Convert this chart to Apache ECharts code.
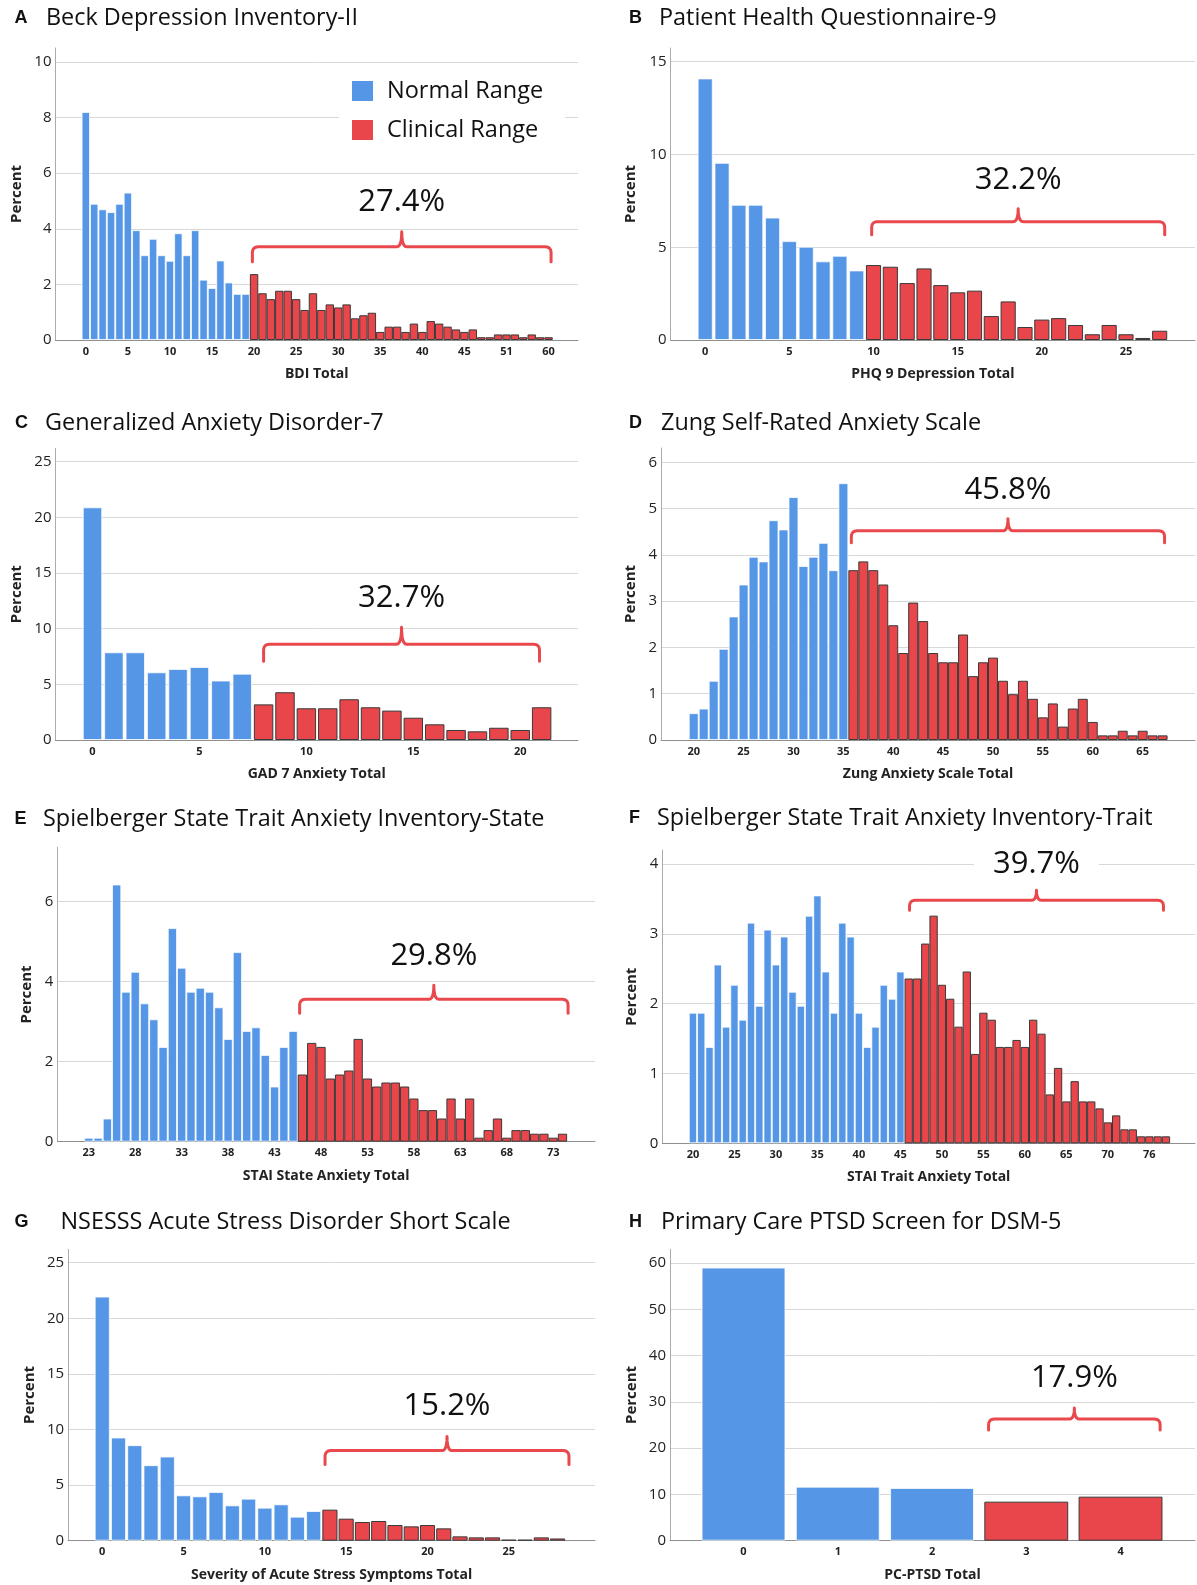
<!DOCTYPE html>
<html>
<head>
<meta charset="utf-8">
<script src="https://cdn.jsdelivr.net/npm/echarts@6/dist/echarts.min.js"></script>
<style>
html, body { margin: 0; padding: 0; background: #fff; }
#main { width: 1197px; height: 1585px; }
</style>
</head>
<body>
<div id="main"></div>
<script>
// ---- data (percent of respondents per score) ----
var bdiCats = ['0','1','2','3','4','5','6','7','8','9','10','11','12','13','14','15','16','17','18','19',
  '20','21','22','23','24','25','26','27','28','29','30','31','32','33','34','35','36','37','38','39',
  '40','41','42','43','44','45','46','47','48','50','51','52','53','55','57','60'];
var bdiPct = [8.2,4.9,4.7,4.6,4.9,5.3,3.95,3.05,3.64,3.05,2.85,3.84,3.05,3.95,2.17,1.87,2.86,2.07,1.66,1.66,
  2.37,1.68,1.47,1.77,1.77,1.47,1.08,1.68,1.08,1.28,1.17,1.28,0.78,0.89,0.98,0.29,0.48,0.48,0.29,0.59,
  0.29,0.68,0.59,0.48,0.38,0.29,0.38,0.1,0.1,0.2,0.2,0.2,0.1,0.2,0.1,0.1];

var phqCats = ['0','1','2','3','4','5','6','7','8','9','10','11','12','13','14','15','16','17','18','19',
  '20','21','22','23','24','25','26','27'];
var phqPct = [14.1,9.55,7.29,7.29,6.6,5.33,5.03,4.24,4.54,3.75,4.04,3.95,3.07,3.86,2.96,2.57,2.66,1.29,2.08,0.7,
  1.1,1.18,0.81,0.31,0.81,0.31,0.11,0.5];

var gadCats = ['0','1','2','3','4','5','6','7','8','9','10','11','12','13','14','15','16','17','18','19','20','21'];
var gadPct = [20.9,7.88,7.88,6.08,6.38,6.56,5.34,5.96,3.2,4.29,2.85,2.85,3.66,2.94,2.64,2.0,1.41,0.9,0.78,1.1,0.9,2.94];

var zungCats = ['20','21','22','23','24','25','26','27','28','29','30','31','32','33','34','35','36','37','38','39',
  '40','41','42','43','44','45','46','47','48','49','50','51','52','53','54','55','56','57','58','59',
  '60','61','62','63','64','65','66','67'];
var zungPct = [0.58,0.68,1.28,1.97,2.67,3.36,3.96,3.86,4.75,4.55,5.25,3.76,3.96,4.26,3.67,5.55,
  3.67,3.86,3.67,3.36,2.48,1.88,2.97,2.57,1.88,1.68,1.68,2.28,1.38,1.68,1.78,1.28,0.99,1.28,0.89,0.49,
  0.79,0.29,0.68,0.89,0.39,0.1,0.1,0.2,0.1,0.2,0.1,0.1];

var stateCats = ['23','24','25','26','27','28','29','30','31','32','33','34','35','36','37','38','39','40','41','42',
  '43','44','45','46','47','48','49','50','51','52','53','54','55','56','57','58','59','60','61','62',
  '63','64','65','66','67','68','69','70','71','72','73','74'];
var statePct = [0.1,0.1,0.58,6.43,3.75,4.25,3.46,3.06,2.37,5.34,4.35,3.75,3.85,3.75,3.36,2.57,4.74,2.77,2.86,2.17,
  1.38,2.37,2.77,1.68,2.47,2.37,1.58,1.68,1.78,2.57,1.58,1.38,1.48,1.48,1.38,1.08,0.79,0.79,0.58,1.08,
  0.58,1.08,0.1,0.29,0.58,0.1,0.29,0.29,0.2,0.2,0.1,0.2];

var traitCats = ['20','21','22','23','24','25','26','27','28','29','30','31','32','33','34','35','36','37','38','39',
  '40','41','42','43','44','45','46','47','48','49','50','51','52','53','54','55','56','57','58','59',
  '60','61','62','63','64','65','66','67','68','69','70','71','72','73','74','76','77','78'];
var traitPct = [1.87,1.87,1.38,2.56,1.67,2.27,1.77,3.16,1.97,3.06,2.56,2.96,2.17,1.97,3.26,3.55,2.46,1.87,3.16,2.96,
  1.87,1.38,1.67,2.27,2.07,2.46,2.36,2.36,2.86,3.26,2.27,2.07,1.67,2.46,1.28,1.87,1.77,1.38,1.38,1.48,
  1.38,1.77,1.57,0.7,1.08,0.6,0.89,0.6,0.6,0.5,0.3,0.4,0.2,0.2,0.1,0.1,0.1,0.1];

var asdCats = ['0','1','2','3','4','5','6','7','8','9','10','11','12','13','14','15','16','17','18','19',
  '20','21','22','23','24','25','26','27','28'];
var asdPct = [21.95,9.28,8.59,6.79,7.57,4.08,3.99,4.38,3.18,3.78,2.97,3.27,2.16,2.67,2.79,1.98,1.68,1.77,1.41,1.29,
  1.41,1.11,0.39,0.3,0.3,0.09,0.09,0.3,0.2];

var ptsdCats = ['0','1','2','3','4'];
var ptsdPct = [59.05,11.68,11.4,8.44,9.52];

// first score index in the clinical range, and share of respondents in it
var cutIdx = [20, 10, 8, 16, 23, 26, 14, 3];
var clinicalShare = ['27.4%', '32.2%', '32.7%', '45.8%', '29.8%', '39.7%', '15.2%', '17.9%'];

var BLUE = '#5596E6';
var RED = '#E8464A';
var BRACE = '#E9484D';
var FONT = '"Open Sans", sans-serif';

var panels = [
  {letter:'A', title:'Beck Depression Inventory-II', cats:bdiCats, vals:bdiPct, xName:'BDI Total',
   grid:{left:55.5, top:48, width:522.5, height:292}, xMin:-3.6, xMax:58.5, yMax:10.5, yStep:2, gap:'0%', every:5,
   brace:[19.8, 55.3, 3.35], pctY:4.96, hook:15, head:[14.5, 46, 18], yNameGap:31},
  {letter:'B', title:'Patient Health Questionnaire-9', cats:phqCats, vals:phqPct, xName:'PHQ 9 Depression Total',
   grid:{left:670.7, top:48, width:524.3, height:292}, xMin:-2.05, xMax:29.1, yMax:15.74, yStep:5, gap:'10%', every:5,
   brace:[9.89, 27.3, 6.38], pctY:8.63, hook:13, head:[629, 659, 18], yNameGap:32},
  {letter:'C', title:'Generalized Anxiety Disorder-7', cats:gadCats, vals:gadPct, xName:'GAD 7 Anxiety Total',
   grid:{left:55.5, top:448.3, width:522.5, height:291.7}, xMin:-1.73, xMax:22.7, yMax:26.2, yStep:5, gap:'9%', every:5,
   brace:[8.0, 20.9, 8.6], pctY:12.74, hook:17, head:[15, 45, 423], yNameGap:31},
  {letter:'D', title:'Zung Self-Rated Anxiety Scale', cats:zungCats, vals:zungPct, xName:'Zung Anxiety Scale Total',
   grid:{left:661.1, top:448, width:533.9, height:292}, xMin:-3.27, xMax:50.25, yMax:6.31, yStep:1, gap:'0%', every:5,
   brace:[15.8, 47.2, 4.52], pctY:5.4, hook:12, head:[629, 661, 423], yNameGap:23},
  {letter:'E', title:'Spielberger State Trait Anxiety Inventory-State', cats:stateCats, vals:statePct, xName:'STAI State Anxiety Total',
   grid:{left:57.4, top:847.3, width:537.6, height:294.4}, xMin:-3.38, xMax:54.5, yMax:7.36, yStep:2, gap:'0%', every:5,
   brace:[22.7, 51.6, 3.56], pctY:4.65, hook:14, head:[14.5, 43, 819], yNameGap:23},
  {letter:'F', title:'Spielberger State Trait Anxiety Inventory-Trait', cats:traitCats, vals:traitPct, xName:'STAI Trait Anxiety Total',
   grid:{left:662.3, top:850, width:532.7, height:293.3}, xMin:-3.69, xMax:60.5, yMax:4.2, yStep:1, gap:'0%', every:5,
   brace:[26.1, 56.7, 3.48], pctY:4.0, hook:10, head:[629, 657, 818], yNameGap:23},
  {letter:'G', title:'NSESSS Acute Stress Disorder Short Scale', cats:asdCats, vals:asdPct, xName:'Severity of Acute Stress Symptoms Total',
   grid:{left:68.1, top:1249.3, width:526.9, height:291.4}, xMin:-2.1, xMax:30.3, yMax:26.2, yStep:5, gap:'7%', every:5,
   brace:[13.7, 28.7, 8.1], pctY:12.06, hook:14, head:[14.5, 60.5, 1222], yNameGap:31},
  {letter:'H', title:'Primary Care PTSD Screen for DSM-5', cats:ptsdCats, vals:ptsdPct, xName:'PC-PTSD Total',
   grid:{left:670, top:1249.3, width:525, height:291.4}, xMin:-0.78, xMax:4.79, yMax:63, yStep:10, gap:'11%', every:1,
   brace:[2.6, 4.42, 26.3], pctY:35.1, hook:11, head:[629, 661, 1222], yNameGap:31}
];

var chart = echarts.init(document.getElementById('main'));

var grids = [], xAxes = [], yAxes = [], series = [];

panels.forEach(function (p, k) {
  var cut = cutIdx[k];
  var ticks = [];
  for (var t = 0; t < p.cats.length; t += p.every) ticks.push(t);
  var normal = [], clinical = [];
  p.vals.forEach(function (v, i) {
    if (i < cut) normal.push([i, v]); else clinical.push([i, v]);
  });

  var g = p.grid;
  grids.push({left:g.left, top:g.top, width:g.width, height:g.height, containLabel:false, outerBoundsMode:'none'});

  xAxes.push({
    type:'value', gridIndex:k, min:p.xMin, max:p.xMax,
    name:p.xName, nameLocation:'middle', nameGap:27,
    nameTextStyle:{fontFamily:FONT, fontWeight:'bold', fontSize:14, color:'#222'},
    axisLine:{show:true, onZero:false, lineStyle:{color:'#8f8f8f', width:1}},
    axisTick:{show:false},
    splitLine:{show:false},
    axisLabel:{
      customValues:ticks, margin:6, fontFamily:FONT, fontWeight:'bold', fontSize:11, color:'#222',
      formatter:function (v) { return p.cats[Math.round(v)]; }
    }
  });

  yAxes.push({
    type:'value', gridIndex:k, min:0, max:p.yMax, interval:p.yStep,
    name:'Percent', nameLocation:'middle', nameRotate:90, nameGap:p.yNameGap,
    nameTextStyle:{fontFamily:FONT, fontWeight:'bold', fontSize:15, color:'#222'},
    axisLine:{show:true, onZero:false, lineStyle:{color:'#ababab', width:1}},
    axisTick:{show:false},
    axisLabel:{margin:4, fontFamily:FONT, fontSize:15, color:'#222', showMaxLabel:false},
    splitLine:{show:true, showMaxLine:false, lineStyle:{color:'#d8d8d8', width:1}}
  });

  series.push({
    type:'bar', name:'Normal Range', xAxisIndex:k, yAxisIndex:k, data:normal,
    barGap:'-100%', barCategoryGap:p.gap,
    itemStyle:{color:BLUE, borderColor:'rgba(255,255,255,0.75)', borderWidth:1},
    emphasis:{disabled:true}
  });
  series.push({
    type:'bar', name:'Clinical Range', xAxisIndex:k, yAxisIndex:k, data:clinical,
    barGap:'-100%', barCategoryGap:p.gap,
    itemStyle:{color:RED, borderColor:'#3a3a3a', borderWidth:1},
    emphasis:{disabled:true}
  });
});

chart.setOption({
  animation:false,
  backgroundColor:'#ffffff',
  grid:grids,
  xAxis:xAxes,
  yAxis:yAxes,
  series:series,
  legend:{
    data:['Normal Range', 'Clinical Range'],
    orient:'vertical', left:339, top:75,
    itemWidth:21, itemHeight:20, itemGap:15,
    icon:'rect', selectedMode:false,
    itemStyle:{borderWidth:0},
    backgroundColor:'#ffffff',
    padding:[4, 22, 4, 13],
    textStyle:{fontFamily:FONT, fontSize:23.5, color:'#111', padding:[0, 0, 0, 9]}
  }
});

// rounded corner points for the brace outline
function curve(p0, c, p1) {
  var pts = [];
  for (var s = 0; s <= 6; s++) {
    var t = s / 6, u = 1 - t;
    pts.push([u * u * p0[0] + 2 * u * t * c[0] + t * t * p1[0], u * u * p0[1] + 2 * u * t * c[1] + t * t * p1[1]]);
  }
  return pts;
}

// titles, braces and clinical-range percentages
var graphics = [];
panels.forEach(function (p, k) {
  graphics.push({type:'text', z:100, x:p.head[0], y:p.head[2],
    style:{text:p.letter, font:'bold 18px "Liberation Sans", Arial, sans-serif', fill:'#111', verticalAlign:'middle'}});
  graphics.push({type:'text', z:100, x:p.head[1], y:p.head[2],
    style:{text:p.title, font:'23.4px "Open Sans", sans-serif', fill:'#111', verticalAlign:'middle'}});

  var a = chart.convertToPixel({xAxisIndex:k, yAxisIndex:k}, [p.brace[0], p.brace[2]]);
  var b = chart.convertToPixel({xAxisIndex:k, yAxisIndex:k}, [p.brace[1], p.brace[2]]);
  var x0 = a[0], x1 = b[0], y = a[1], h = p.hook, r = 6;
  var xm = (x0 + x1) / 2;
  var leftPts = [[x0, y + h]].concat(curve([x0, y + r], [x0, y], [x0 + r, y]));
  var midPts = curve([xm - 5, y], [xm, y], [xm, y - h]).concat(curve([xm, y - h], [xm, y], [xm + 5, y]));
  var rightPts = curve([x1 - r, y], [x1, y], [x1, y + r]).concat([[x1, y + h]]);
  graphics.push({type:'polyline', z:100, shape:{points:leftPts.concat(midPts, rightPts)},
    style:{stroke:BRACE, lineWidth:3, fill:null, lineCap:'round', lineJoin:'round'}});

  var t = chart.convertToPixel({xAxisIndex:k, yAxisIndex:k}, [(p.brace[0] + p.brace[1]) / 2, p.pctY]);
  graphics.push({type:'text', z:100, x:t[0], y:t[1],
    style:{text:clinicalShare[k], font:'31px "Open Sans", sans-serif', fill:'#111',
      align:'center', verticalAlign:'middle', backgroundColor:'#ffffff', padding:[0, 19]}});
});

chart.setOption({graphic:graphics});
</script>
</body>
</html>
